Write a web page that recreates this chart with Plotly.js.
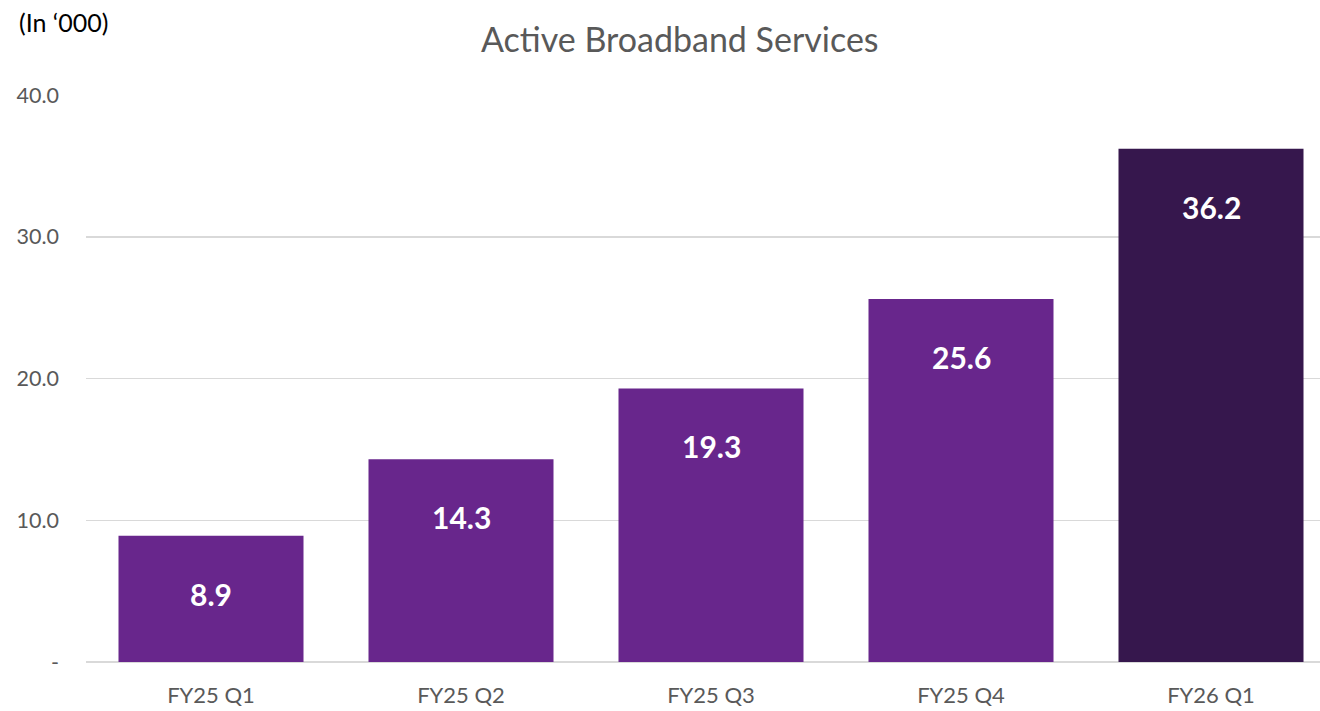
<!DOCTYPE html>
<html><head><meta charset="utf-8">
<script src="https://cdn.plot.ly/plotly-3.0.1.min.js"></script>
<style>html,body{margin:0;padding:0;background:#fff}#chart{width:1320px;height:711px}</style>
</head><body><div id="chart"></div>
<script>
const categories = ["FY25 Q1", "FY25 Q2", "FY25 Q3", "FY25 Q4", "FY26 Q1"];
const values = [8.9, 14.3, 19.3, 25.6, 36.2];
const barColors = ["#68268C", "#68268C", "#68268C", "#68268C", "#36174D"];
const yTickVals = [0, 10, 20, 30, 40];
const yTickText = ["-", "10.0", "20.0", "30.0", "40.0"];

const font = "Lato, 'Open Sans', sans-serif";
const trace = {
  type: "bar", x: categories, y: values,
  marker: {color: barColors},
  hoverinfo: "x+y"
};
const annotations = categories.map((c, i) => ({
  x: c, y: values[i], xref: "x", yref: "y",
  text: "<b>" + values[i].toFixed(1) + "</b>",
  showarrow: false, yanchor: "middle", yshift: -58,
  font: {family: font, size: 30, color: "#ffffff"}
}));
annotations.push({
  xref: "paper", yref: "paper", x: -0.056, y: 1.129, xanchor: "left", yanchor: "middle",
  text: "(In \u2018000)", showarrow: false,
  font: {family: font, size: 25, color: "#000000"}
});
const layout = {
  width: 1320, height: 711,
  margin: {l: 86, r: 0, t: 95, b: 49},
  paper_bgcolor: "#ffffff", plot_bgcolor: "#ffffff",
  title: {text: "Active Broadband Services", x: 0.515, xanchor: "center", y: 0.944, yanchor: "middle",
          font: {family: font, size: 34, color: "#595959"}},
  bargap: 0.26,
  showlegend: false,
  xaxis: {range: [-0.5, 4.436], showgrid: false, showline: false, ticks: "",
          ticklabelstandoff: 18,
          tickfont: {family: font, size: 22, color: "#595959"}, fixedrange: true},
  yaxis: {range: [0, 40], tickvals: yTickVals, ticktext: yTickText,
          showgrid: true, gridcolor: "#d9d9d9", gridwidth: 1.5,
          zeroline: true, zerolinecolor: "#d9d9d9", zerolinewidth: 1.5,
          showline: false, ticks: "", ticklabelstandoff: 26,
          tickfont: {family: font, size: 21.5, color: "#595959"}, fixedrange: true},
  annotations: annotations
};
Plotly.newPlot("chart", [trace], layout, {displayModeBar: false, staticPlot: true});
</script></body></html>
